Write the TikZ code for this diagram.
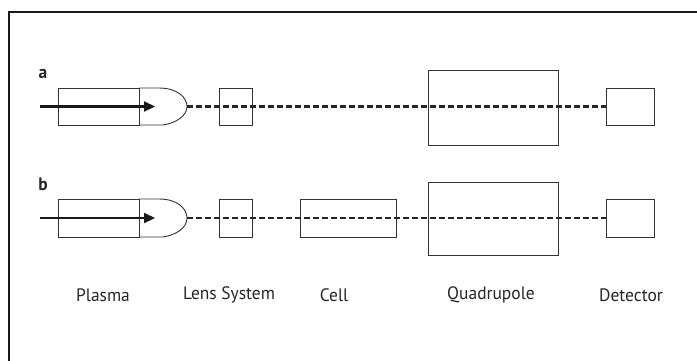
\documentclass[tikz,border=0pt]{standalone}
\usepackage{fontspec}
\setmainfont{PT Sans}[FakeStretch=0.97]
\usetikzlibrary{arrows.meta}
\begin{document}
\begin{tikzpicture}[x=1pt,y=-1pt,
  box/.style={draw=black!80,line width=0.9pt,inner sep=0pt,outer sep=0pt,rectangle},
  beam/.style={line width=2.4pt,black!85,dash pattern=on 6pt off 3pt},
  inarrow/.style={line width=2.2pt,black!90,-{Triangle[length=11pt,width=10pt]}},
  lbl/.style={font=\fontsize{18}{20}\selectfont,text=black!85},
  tag/.style={font=\fontsize{18}{20}\selectfont\bfseries,text=black!85}]
\useasboundingbox (0,0) rectangle (697,360);
\fill[white] (0,0) rectangle (697,360);
\draw[line width=2pt,black!90] (9,362) -- (9,12) -- (699,12);
% row a
\node[tag] (ta) at (43,74) {a};
\node[box,minimum width=81pt,minimum height=37pt] (plA) at (98.5,106.5) {};
\coordinate (tipA) at (187,106.5);
\draw[black!80,line width=0.9pt] (plA.north east) -- ++(20,0) .. controls (178,88) and (187,98) .. (tipA)
  .. controls (187,116) and (176,123) .. (163,125) -- (plA.south east);
\coordinate (srcA) at (40,106.5);
\node[box,minimum width=33pt,minimum height=37pt] (lnA) at (235.5,106.5) {};
\node[box,minimum width=130pt,minimum height=75pt] (qdA) at (493,107.5) {};
\node[box,minimum width=48pt,minimum height=37pt] (dtA) at (630,106.5) {};
\draw[beam] (tipA) -- (dtA.west);
\draw[inarrow] (srcA) -- (155,106.5);
% row b
\node[tag] (tb) at (43,184) {b};
\node[box,minimum width=81pt,minimum height=38pt] (plB) at (98.5,218) {};
\coordinate (tipB) at (187,218);
\draw[black!80,line width=0.9pt] (plB.north east) -- ++(20,0) .. controls (178,199) and (187,209) .. (tipB)
  .. controls (187,228) and (176,235) .. (163,237) -- (plB.south east);
\coordinate (srcB) at (40,218);
\node[box,minimum width=33pt,minimum height=38pt] (lnB) at (235.5,218) {};
\node[box,minimum width=96pt,minimum height=38pt] (clB) at (348,218) {};
\node[box,minimum width=130pt,minimum height=73pt] (qdB) at (493,218.5) {};
\node[box,minimum width=48pt,minimum height=38pt] (dtB) at (630,218) {};
\draw[beam] (tipB) -- (dtB.west);
\draw[inarrow] (srcB) -- (155,218);
% labels
\node[lbl] (l1) at (103,295) {Plasma};
\node[lbl] (l2) at (229,295) {Lens System};
\node[lbl] (l3) at (334,295) {Cell};
\node[lbl] (l4) at (491,295) {Quadrupole};
\node[lbl] (l5) at (631,295) {Detector};
\end{tikzpicture}
\end{document}
